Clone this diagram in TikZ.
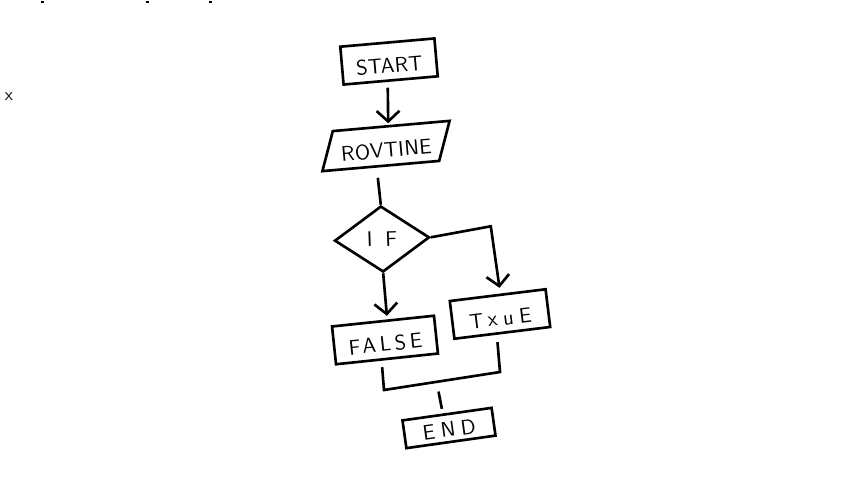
\documentclass[tikz,border=0pt]{standalone}
\usepackage{fontspec}
\newfontfamily\flowsf{Latin Modern Sans}[LetterSpace=2]
\newfontfamily\midsf{Latin Modern Sans}[LetterSpace=18]
\newfontfamily\widesf{Latin Modern Sans}[LetterSpace=28]
\usetikzlibrary{calc, shapes.geometric, arrows.meta}

\begin{document}
\begin{tikzpicture}[x=0.02cm, y=-0.02cm, line width=1.5pt,
    txt/.style={font=\flowsf\fontsize{12}{14}\selectfont, text height=13pt, text depth=0pt},
    mid/.style={font=\midsf\fontsize{12}{14}\selectfont},
    wide/.style={font=\widesf\fontsize{12}{14}\selectfont},
    box/.style={draw, rectangle, txt, inner sep=0pt},
    arr/.style={-{Straight Barb[length=6pt, width=13pt]}}]
    \useasboundingbox (0,0) rectangle (850,478);

    % --- 1. 左上角的小記號 ---
    \fill (41,1) rectangle (44,3);
    \fill (146,1) rectangle (149,3);
    \fill (209,1) rectangle (212,3);
    \node[font=\flowsf\fontsize{10}{12}\selectfont] (xmark) at (9,97) {x};

    % --- 2. 流程圖的方框 ---
    \node[box, rotate=5, minimum width=1.89cm, minimum height=0.76cm] (start) at (389,61.5) {START};
    \node[draw, trapezium, trapezium left angle=62, trapezium right angle=118,
          trapezium stretches=true, rotate=5, minimum width=2.64cm,
          minimum height=0.78cm, txt, inner sep=0pt] (rov) at (386,146) {ROVTINE};
    \node[draw, diamond, rotate=2, minimum width=1.9cm, minimum height=1.32cm,
          inner sep=0pt, wide] (ifx) at (382,239) {I F};
    \node[box, mid, rotate=6, minimum width=2.05cm, minimum height=0.76cm] (falsebox) at (385,340) {FALSE};
    \node[box, wide, rotate=7, minimum width=1.93cm, minimum height=0.76cm] (truebox) at (500,314) {TxuE};
    \node[box, wide, rotate=8, text height=10pt, minimum width=1.8cm, minimum height=0.56cm] (endbox) at (449,428) {END};

    % --- 3. 箭頭與連線 ---
    \draw[arr] ($(start.south)+(-3,6)$) -- ($(rov.north)+(4,-2)$);
    \draw ($(rov.south)+(-10,11)$) -- (ifx.north);
    \draw[arr] (ifx.south) -- ($(falsebox.north)+(4,-4)$);
    \draw[arr] (ifx.east) -- ++(60,-11) -- ($(truebox.north)+(2,-6)$);

    % --- 4. 合併線與 END ---
    \coordinate (mL) at (384,390);
    \coordinate (mR) at (500,372);
    \draw ($(falsebox.south)+(-5,7)$) -- (mL) -- (mR) -- ($(truebox.south)+(-5,8)$);
    \draw ($(mL)!0.47!(mR)+(0,10)$) -- ($(endbox.north)+(-5,-4)$);
\end{tikzpicture}
\end{document}
